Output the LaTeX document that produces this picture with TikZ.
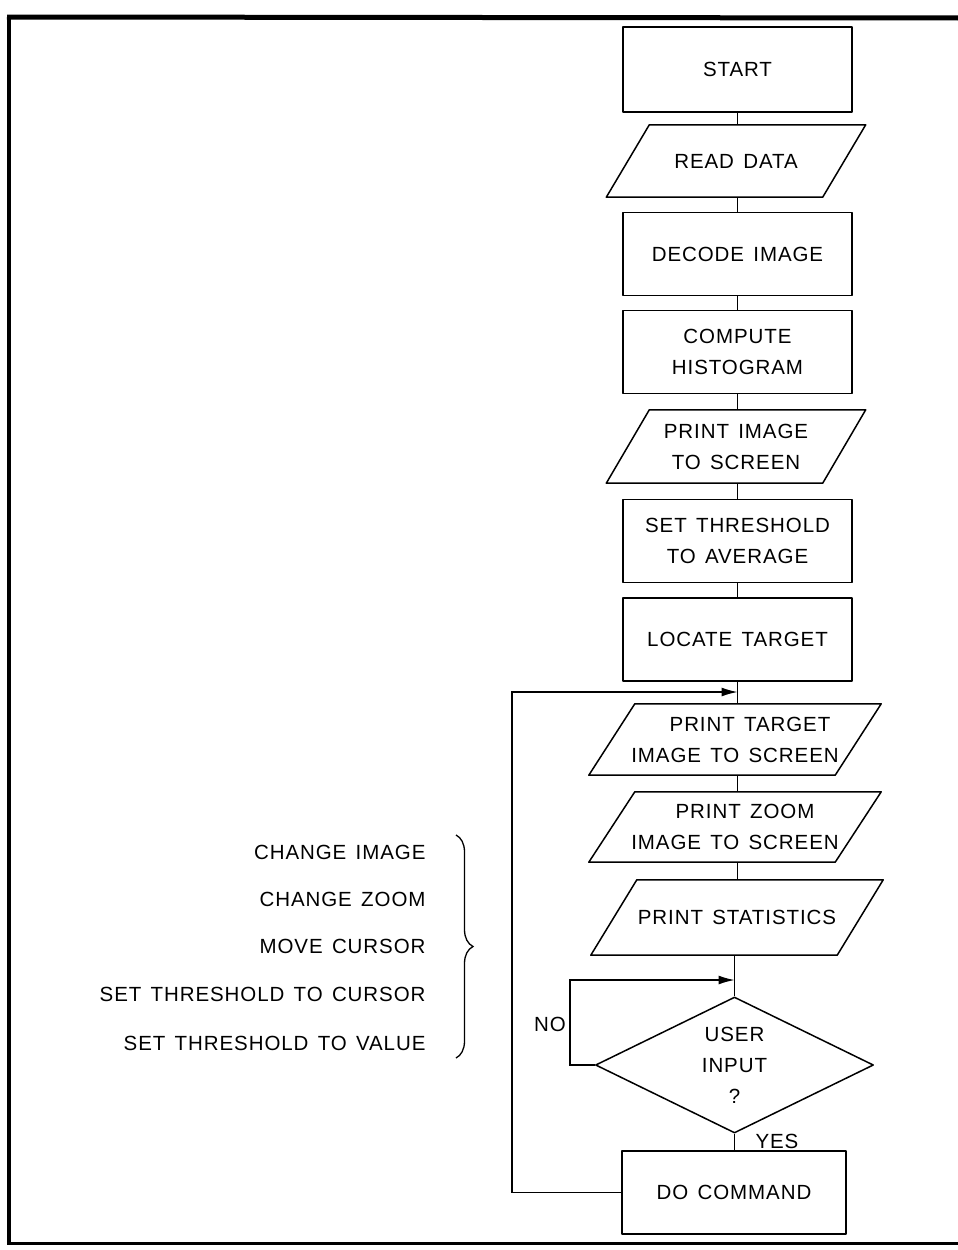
\documentclass[tikz,border=0pt]{standalone}
\usepackage{fontspec}
\setmainfont{Liberation Sans}[LetterSpace=4.5,WordSpace=1.4]
\usetikzlibrary{shapes.geometric,arrows.meta,decorations.pathreplacing}
\newcommand\paral[2]{\draw[shapeline] ([xshift=#2]#1.north west) -- ([xshift=#2]#1.north east) -- ([xshift=-#2]#1.south east) -- ([xshift=-#2]#1.south west) -- cycle;}
\begin{document}
\begin{tikzpicture}[x=1pt,y=-1pt,
  every node/.style={font=\fontsize{20.5}{31}\selectfont, align=center},
  shapeline/.style={line width=1.5pt, line join=round},
  box/.style={draw, shapeline, minimum width=229pt, minimum height=83pt, inner sep=0pt},
  io/.style={minimum width=216pt, minimum height=72pt, inner sep=0pt},
  iow/.style={minimum width=246pt, minimum height=72pt, inner sep=0pt},
  conn/.style={line width=1.3pt},
  arr/.style={conn, -{Latex[length=16pt,width=9pt]}},
  lbl/.style={anchor=east}]
\useasboundingbox (0,0) rectangle (958,1250);
% frame
\draw[line width=5pt] (958,18) -- (7,17);
\draw[line width=4pt] (9,15) -- (9,1244);
\draw[line width=3pt] (7,1243) -- (958,1243);
% nodes
\node[box, minimum height=85pt] (start) at (737.5,69.5) {START};
\node[io] (read) at (736,161) {READ DATA};
\node[box] (decode) at (737.5,254) {DECODE IMAGE};
\node[box] (hist) at (737.5,352) {COMPUTE\\HISTOGRAM};
\node[io, minimum height=73pt] (pimg) at (736,446.5) {PRINT IMAGE\\TO SCREEN};
\node[box] (thr) at (737.5,541) {SET THRESHOLD\\TO AVERAGE};
\node[box] (loc) at (737.5,639.5) {LOCATE TARGET};
\node[iow, minimum height=71pt] (ptgt) at (735,739.5) {\hspace*{30pt}PRINT TARGET\\IMAGE TO SCREEN};
\node[iow, minimum height=70pt] (pzoom) at (735,827) {\hspace*{20pt}PRINT ZOOM\\IMAGE TO SCREEN};
\node[iow, minimum height=75pt] (pstat) at (737,917.5) {PRINT STATISTICS};
\node[diamond, draw, shapeline, aspect=2.04, minimum width=278pt, minimum height=136pt, inner sep=0pt] (dec) at (734.5,1065) {USER\\INPUT\\?};
\node[box, minimum width=224pt] (cmd) at (734,1192.5) {DO COMMAND};
\paral{read}{21.5pt}
\paral{pimg}{21.5pt}
\paral{ptgt}{23pt}
\paral{pzoom}{23pt}
\paral{pstat}{23pt}
% labels
\node (no) at (550,1024) {NO};
\node (yes) at (777,1141) {YES};
% connectors
\draw[conn] (start.south) -- (start.south |- read.north);
\draw[conn] (decode.north |- read.south) -- (decode.north);
\draw[conn] (decode.south) -- (hist.north);
\draw[conn] (hist.south) -- (hist.south |- pimg.north);
\draw[conn] (thr.north |- pimg.south) -- (thr.north);
\draw[conn] (thr.south) -- (loc.north);
\draw[conn] (loc.south) -- (loc.south |- ptgt.north);
\draw[conn] (loc.south |- ptgt.south) -- (loc.south |- pzoom.north);
\draw[conn] (loc.south |- pzoom.south) -- (loc.south |- pstat.north);
\draw[conn] (dec.north |- pstat.south) -- (dec.north);
\draw[conn] (dec.south) -- (dec.south |- cmd.north);
\coordinate (m1) at (737.5,692);
\coordinate (lp) at (512,692);
\draw[arr] (cmd.west) -| (lp) -- (m1);
\coordinate (m2) at (734.5,980);
\coordinate (nl) at (570,980);
\draw[arr] (dec.west) -| (nl) -- (m2);
% command list
\node[lbl] (c1) at (429,852) {CHANGE IMAGE};
\node[lbl] (c2) at (429,899) {CHANGE ZOOM};
\node[lbl] (c3) at (429,946) {MOVE CURSOR};
\node[lbl] (c4) at (429,994) {SET THRESHOLD TO CURSOR};
\node[lbl] (c5) at (429,1043) {SET THRESHOLD TO VALUE};
\coordinate (b1) at (456,835);
\coordinate (b2) at (456,1058);
\draw[line width=1.3pt, decorate, decoration={brace, amplitude=17pt, aspect=0.5}] (b1) -- (b2);
\end{tikzpicture}
\end{document}
